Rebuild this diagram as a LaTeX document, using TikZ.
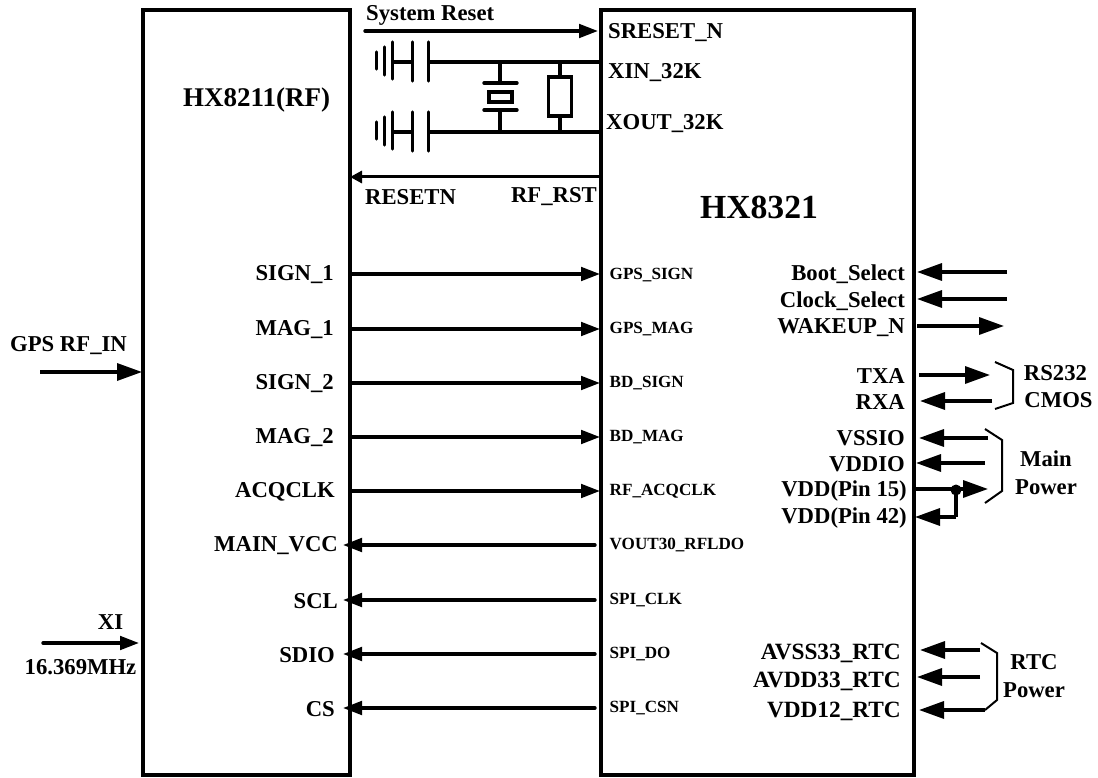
\documentclass[tikz,border=0pt]{standalone}
\usepackage{fontspec}
\setmainfont{Liberation Serif}[BoldFont={Liberation Serif Bold}]
\usetikzlibrary{arrows.meta}
\newcommand{\fs}[1]{\fontsize{#1}{#1}\selectfont\bfseries}
\tikzset{
 blk/.style={draw=black,line width=3.6pt,fill=white,inner sep=0pt},
 lab/.style={inner sep=0pt,font=\fs{22.7}},
 rtclab/.style={inner sep=0pt,font=\fs{23.3}},
 small/.style={inner sep=0pt,font=\fs{17.1}},
 wire/.style={line width=3.4pt,draw=black},
 thin wire/.style={line width=3pt,draw=black},
 arr/.style={wire,line cap=round,-{Triangle[length=19pt,width=13.5pt]}},
 barr/.style={wire,-{Triangle[length=25pt,width=17pt]}},
 brk/.style={line width=2pt,draw=black,line join=miter},
}
\begin{document}
\begin{tikzpicture}[x=1pt,y=-1pt]
\useasboundingbox (0,0) rectangle (1098,778);
\fill[white] (0,0) rectangle (1098,778);
\node[blk,minimum width=207pt,minimum height=765pt] (rf) at (246.5,392.5) {};
\node[blk,minimum width=313pt,minimum height=765pt] (soc) at (757.5,392.5) {};
\node[inner sep=0pt,font=\fs{27}] (rfname) at (256.5,100) {HX8211(RF)};
\node[inner sep=0pt,font=\fs{33.7}] (socname) at (759,207) {HX8321};
% left labels
\foreach \n/\t/\y/\xe in {a/SIGN\_1/275/334,b/MAG\_1/330/334,c/SIGN\_2/384/334,d/MAG\_2/438/334,e/ACQCLK/492/335,f/MAIN\_VCC/546/338,g/SCL/601/338,h/SDIO/655/335,i/CS/709/335}
  \node[lab,anchor=east] (l\n) at (\xe,\y) {\t};
% right small labels
\foreach \n/\t/\y in {a/GPS\_SIGN/275.5,b/GPS\_MAG/329.5,c/BD\_SIGN/383.5,d/BD\_MAG/437.5,e/RF\_ACQCLK/491.5,f/VOUT30\_RFLDO/545.5,g/SPI\_CLK/600.5,h/SPI\_DO/654.5,i/SPI\_CSN/708.5}
  \node[small,anchor=west] (r\n) at (609.5,\y) {\t};
% bus connectors
\foreach \n/\y in {a/274,b/329,c/383,d/437,e/491}{
  \coordinate (s\n) at (351,\y); \coordinate (t\n) at (600,\y);
  \draw[arr] (s\n) -- (t\n);}
\foreach \n/\y in {f/545,g/600,h/654,i/708}{
  \coordinate (s\n) at (595,\y); \coordinate (t\n) at (343,\y);
  \draw[arr] (s\n) -- (t\n);}
% top
\node[lab,anchor=west] (sysr) at (366,15) {System Reset};
\coordinate (sr0) at (365,31); \coordinate (sr1) at (598,31);
\draw[arr] (sr0) -- (sr1);
\node[lab,anchor=west] (sreset) at (608,33) {SRESET\_N};
\node[lab,anchor=west] (xin) at (608,73) {XIN\_32K};
\node[lab,anchor=west] (xout) at (606,124) {XOUT\_32K};
\node[lab,anchor=west] (resetn) at (365,197) {RESETN};
\node[lab,anchor=east] (rfrst) at (597,197) {RF\_RST};
\coordinate (rs0) at (600,177); \coordinate (rs1) at (350,177);
\draw[thin wire,-{Triangle[length=12pt,width=12pt]}] (rs0) -- (rs1);
% capacitors
\foreach \y/\o in {62/a,132/b}{
  \coordinate (x\o) at (600,\y);
  \draw[wire] (428,\y) -- (x\o);
  \draw[wire] (392.3,\y) -- (412.7,\y);
  \draw[wire,line cap=round] (412.7,\y-20) -- (412.7,\y+19);
  \draw[wire,line cap=round] (428.3,\y-20) -- (428.3,\y+19);
  \draw[wire,line cap=round] (392.3,\y-20) -- (392.3,\y+17);
  \draw[wire,line cap=round] (384.5,\y-15) -- (384.5,\y+13);
  \draw[wire,line cap=round] (376.7,\y-10) -- (376.7,\y+7);
}
% crystal
\draw[wire] (500,62) -- (500,82);
\draw[wire] (500,110) -- (500,132);
\draw[wire,line cap=round] (484,83) -- (517,83);
\draw[wire,line cap=round] (484,110) -- (517,110);
\draw[wire] (489,92) rectangle (512,102);
% resistor
\draw[wire] (560,62) -- (560,77);
\draw[wire] (560,116) -- (560,132);
\draw[wire] (548.5,77) rectangle (571.5,116);
% GPS in / XI
\node[lab] (gps) at (68.5,346) {GPS RF\_IN};
\coordinate (g0) at (40,372); \coordinate (g1) at (142,372);
\draw[barr] (g0) -- (g1);
\node[lab] (xi) at (110.5,622.5) {XI};
\node[lab] (fq) at (80.5,667) {16.369MHz};
\coordinate (x0) at (43,643); \coordinate (x1) at (139,643);
\draw[arr] (x0) -- (x1);
% right side labels
\foreach \n/\t/\y/\xe in {p/Boot\_Select/274/905,q/Clock\_Select/301/905,r/WAKEUP\_N/328/905,s/TXA/376/905,u/RXA/402/905,v/VSSIO/438/905,w/VDDIO/464/905,y/VDD(Pin 15)/491/907,z/VDD(Pin 42)/518/907}
  \node[lab,anchor=east] (R\n) at (\xe,\y) {\t};
\foreach \n/\t/\y/\xe in {m/AVSS33\_RTC/653/901,n/AVDD33\_RTC/681/901,o/VDD12\_RTC/711/901}
  \node[rtclab,anchor=east] (R\n) at (\xe,\y) {\t};
\foreach \n/\xa/\xb/\y in {p/1007/917/272,q/1007/917/299,r/917/1004/326,s/919/990/375,u/992/920/401,v/988/919/438,w/985/916/463,m/980/920/650,n/980/917/677}{
  \coordinate (A\n) at (\xa,\y); \coordinate (B\n) at (\xb,\y);
  \draw[barr] (A\n) -- (B\n);}
\coordinate (Ay) at (915,489); \coordinate (By) at (988,489);
\draw[barr] (Ay) -- (By);
\coordinate (J) at (956,490); \coordinate (Bz) at (915,517); \coordinate (Jz) at (956,517);
\fill (J) circle (5.5pt);
\draw[wire] (J) -- (Jz);
\draw[barr] (Jz) -- (Bz);
\coordinate (Ao) at (985,710); \coordinate (Bo) at (919,710);
\draw[barr] (Ao) -- (Bo);
% brackets
\draw[brk] (995,362) -- (1013,370) -- (1013,403) -- (995,409);
\draw[brk] (985,429) -- (1002,440) -- (1002,491) -- (985,503);
\draw[brk] (981,643) -- (997,653) -- (997,700) -- (985,710);
\node[lab] (rs232) at (1055.5,373) {RS232};
\node[lab] (cmos) at (1058.5,400) {CMOS};
\node[lab] (mainl) at (1046,459) {Main};
\node[lab] (power) at (1046,487) {Power};
\node[lab] (rtc) at (1034,662) {RTC};
\node[lab] (power2) at (1034,690) {Power};
\end{tikzpicture}
\end{document}
